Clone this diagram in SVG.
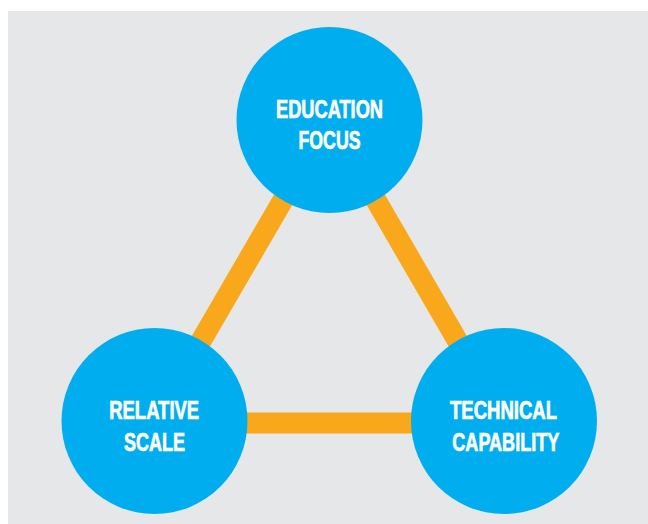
<svg xmlns="http://www.w3.org/2000/svg" width="648" height="524" viewBox="0 0 648 524">
  <style>
    .bg { fill: #e6e7e8; }
    .link { stroke: #f9a71b; stroke-width: 21; fill: none; }
    .node circle { fill: #00aeef; }
    .node text { fill: #ffffff; stroke: #ffffff; stroke-width: 0.7px; font-family: "Liberation Sans", Arial, sans-serif; font-weight: bold; font-size: 25.5px; text-anchor: middle; }
  </style>
  <rect class="bg" x="8" y="11" width="640" height="513"/>
  <g id="connectors">
    <line class="link" x1="329.5" y1="120" x2="154.5" y2="421"/>
    <line class="link" x1="329.5" y1="120" x2="504" y2="421"/>
    <line class="link" x1="154.5" y1="423" x2="504" y2="423"/>
  </g>
  <g id="education-focus" class="node">
    <circle cx="329.5" cy="120" r="93"/>
    <text x="329.5" y="117.5" textLength="107" lengthAdjust="spacingAndGlyphs">EDUCATION</text>
    <text x="329.5" y="149" textLength="62" lengthAdjust="spacingAndGlyphs">FOCUS</text>
  </g>
  <g id="relative-scale" class="node">
    <circle cx="154.5" cy="421" r="93"/>
    <text x="154.2" y="419" textLength="90" lengthAdjust="spacingAndGlyphs">RELATIVE</text>
    <text x="154.5" y="450.5" textLength="61" lengthAdjust="spacingAndGlyphs">SCALE</text>
  </g>
  <g id="technical-capability" class="node">
    <circle cx="504" cy="421" r="93"/>
    <text x="503.5" y="419" textLength="107" lengthAdjust="spacingAndGlyphs">TECHNICAL</text>
    <text x="505.8" y="450.5" textLength="107" lengthAdjust="spacingAndGlyphs">CAPABILITY</text>
  </g>
</svg>
